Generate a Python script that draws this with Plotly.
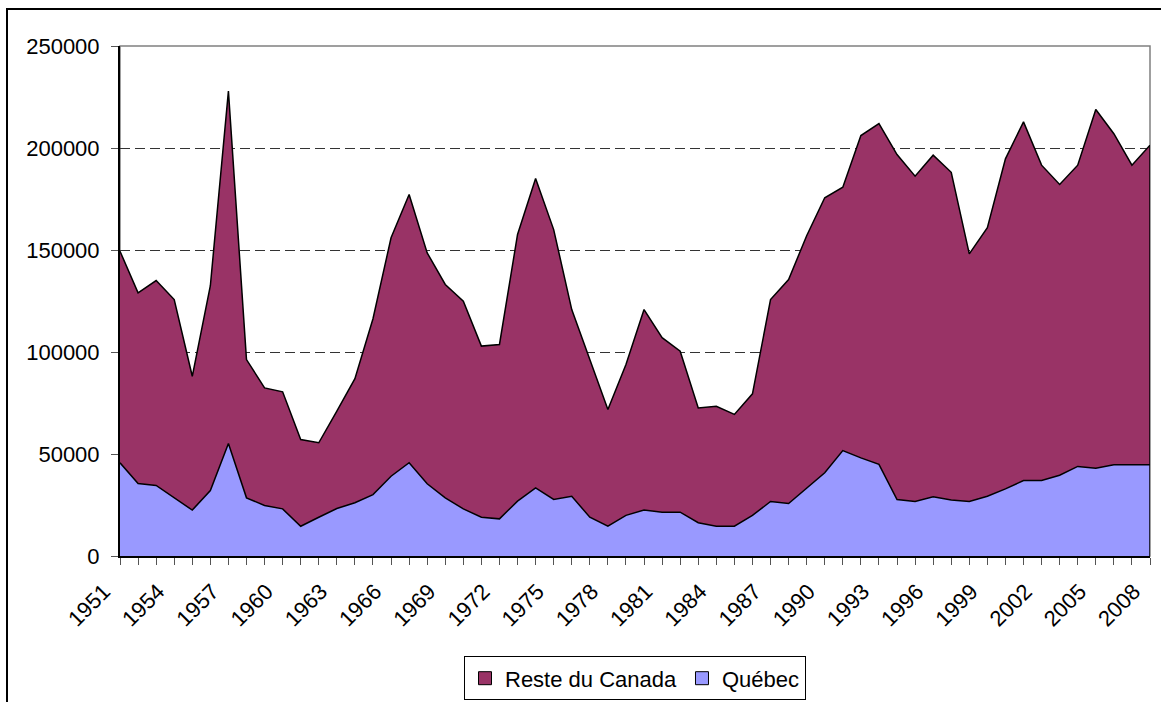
import plotly.graph_objects as go

years = list(range(1951, 2009))

quebec = [45700, 35500, 34600, 28500, 22500, 32100, 55100, 28500, 24800, 23100,
          14600, 19000, 23300, 26100, 30100, 39100, 45700, 35400, 28500, 23100,
          19000, 18200, 26900, 33400, 27700, 29300, 19000, 14600, 19900, 22500,
          21500, 21500, 16300, 14600, 14600, 19900, 26700, 25700, 33400, 40800,
          51700, 48100, 44900, 27700, 26700, 29000, 27400, 26700, 29300, 32900,
          37000, 37000, 39600, 43900, 43000, 44700, 44700, 44700]

reste_du_canada = [103700, 93500, 100400, 97200, 65600, 100400, 172800, 67800, 57600, 57400,
                   42500, 36500, 47700, 60800, 86200, 116900, 131500, 113200, 104600, 101800,
                   83900, 85500, 130700, 151600, 132300, 91500, 77300, 57200, 74000, 98300,
                   85500, 78900, 56300, 58800, 54800, 59600, 99000, 109800, 123600, 134800,
                   129100, 158000, 167100, 169100, 159500, 167500, 160700, 121400, 131600, 161800,
                   175800, 154600, 142500, 147700, 175900, 162300, 146900, 156700]

tick_years = years[::3]
tick_labels = [str(y) for y in tick_years]
y_ticks = [0, 50000, 100000, 150000, 200000, 250000]

QC_COLOR = "#9999FF"
RC_COLOR = "#993366"
FONT = "Liberation Sans, Arial, sans-serif"
FS = 22

fig = go.Figure()
fig.add_trace(go.Scatter(x=years, y=quebec, name="Québec", stackgroup="one",
                         mode="lines", line=dict(color="black", width=1.5),
                         fillcolor=QC_COLOR, showlegend=False))
fig.add_trace(go.Scatter(x=years, y=reste_du_canada, name="Reste du Canada", stackgroup="one",
                         mode="lines", line=dict(color="black", width=1.5),
                         fillcolor=RC_COLOR, showlegend=False))
# legend entries (square swatches)
fig.add_trace(go.Scatter(x=[None], y=[None], name="Reste du Canada", mode="markers",
                         marker=dict(symbol="square", size=13, color=RC_COLOR,
                                     line=dict(color="black", width=1))))
fig.add_trace(go.Scatter(x=[None], y=[None], name="Québec", mode="markers",
                         marker=dict(symbol="square", size=13, color=QC_COLOR,
                                     line=dict(color="black", width=1))))

L, R, T, B = 120, 11, 46, 145.5
W, H = 1161, 702
pw, ph = W - L - R, H - T - B

def px_x(p):
    return (p - L) / pw

def px_y(p):
    return (H - B - p) / ph

shapes = [
    # outer chart frame
    dict(type="rect", xref="paper", yref="paper",
         x0=px_x(7), x1=px_x(1175), y0=px_y(9), y1=px_y(715),
         line=dict(color="black", width=2), layer="below"),
    # plot area border (grey)
    dict(type="rect", xref="paper", yref="paper", x0=0, x1=1, y0=0, y1=1,
         line=dict(color="#808080", width=1.5), layer="below"),
    # right edge of the stacked area
    dict(type="line", xref="x", yref="y", x0=years[-1], x1=years[-1], y0=0,
         y1=quebec[-1] + reste_du_canada[-1], line=dict(color="black", width=1.5)),
]

fig.update_layout(
    width=W, height=H,
    margin=dict(l=L, r=R, t=T, b=B, pad=0, autoexpand=False),
    paper_bgcolor="white", plot_bgcolor="white",
    font=dict(family=FONT, size=FS, color="black"),
    shapes=shapes,
    showlegend=True,
    legend=dict(orientation="h", x=0.5, xanchor="center", y=px_y(657), yanchor="top",
                bordercolor="black", borderwidth=1, bgcolor="white", traceorder="normal",
                font=dict(family=FONT, size=FS, color="black"),
                itemwidth=30, tracegroupgap=0),
    xaxis=dict(range=[years[0], years[-1]], tickmode="array", tickvals=tick_years,
               ticktext=tick_labels, tickangle=-45, ticks="outside", ticklen=7,
               tickcolor="#555", showgrid=False, zeroline=False, automargin=False,
               showline=True, linecolor="black", linewidth=2,
               ticklabelstandoff=5, ticklabelshift=-16,
               minor=dict(dtick=1, tick0=years[0], ticks="outside", ticklen=7,
                          tickcolor="#555", showgrid=False),
               tickfont=dict(family=FONT, size=FS)),
    yaxis=dict(range=[0, 250000], tickmode="array", tickvals=y_ticks,
               ticktext=[str(v) for v in y_ticks], ticks="outside", ticklen=7,
               tickcolor="#555", showgrid=True, gridcolor="#333", gridwidth=1,
               griddash="10px,5px", zeroline=False, showline=True, automargin=False,
               linecolor="black", linewidth=2, ticklabelstandoff=7,
               tickfont=dict(family=FONT, size=FS)),
)

fig.write_html("out.html", config={"displayModeBar": False},
               post_script="document.body.style.margin='0';document.body.style.overflow='hidden';")
